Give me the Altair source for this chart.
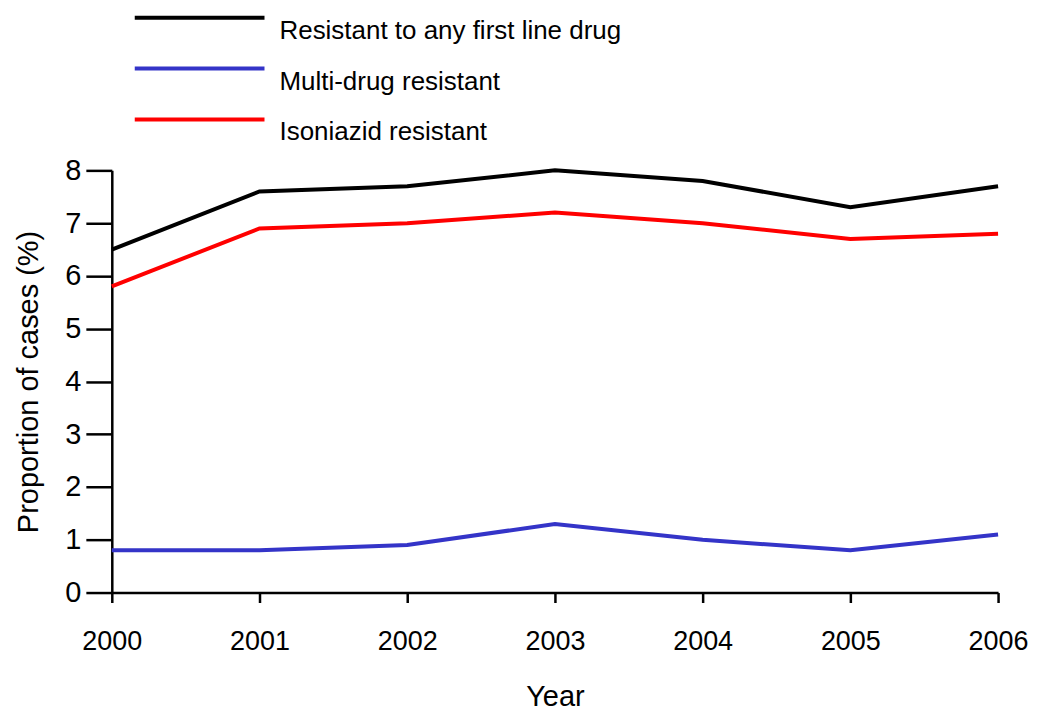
import altair as alt
import pandas as pd

years = [2000, 2001, 2002, 2003, 2004, 2005, 2006]
any_first_line = [6.5, 7.6, 7.7, 8.0, 7.8, 7.3, 7.7]
multi_drug = [0.8, 0.8, 0.9, 1.3, 1.0, 0.8, 1.1]
isoniazid = [5.8, 6.9, 7.0, 7.2, 7.0, 6.7, 6.8]

series_names = ["Resistant to any first line drug", "Multi-drug resistant", "Isoniazid resistant"]
series_colors = ["#000000", "#3434C8", "#FF0000"]

rows = []
for name, vals in zip(series_names, [any_first_line, multi_drug, isoniazid]):
    for y, v in zip(years, vals):
        rows.append({"Year": y, "Value": v, "Series": name})
df = pd.DataFrame(rows)

FONT = "Liberation Sans"

chart = alt.Chart(df).mark_line(strokeWidth=4).encode(
    x=alt.X("Year:Q",
            scale=alt.Scale(domain=[2000, 2006], nice=False, zero=False),
            axis=alt.Axis(values=years, format="d", title="Year", grid=False, labelFlush=False,
                          labelFontSize=27, tickSize=10, labelPadding=26, titlePadding=28)),
    y=alt.Y("Value:Q",
            scale=alt.Scale(domain=[0, 8], nice=False),
            axis=alt.Axis(values=list(range(0, 9)), title="Proportion of cases (%)", grid=False,
                          tickSize=26, labelPadding=5, titlePadding=21)),
    color=alt.Color("Series:N",
                    scale=alt.Scale(domain=series_names, range=series_colors),
                    sort=series_names,
                    legend=alt.Legend(title=None, orient="none", legendX=73, legendY=-168,
                                      symbolType="M-5,0H5", symbolSize=676, symbolStrokeWidth=4,
                                      labelFontSize=26, labelFont=FONT, labelOffset=65,
                                      labelBaseline="top", rowPadding=10, labelLimit=600)),
).properties(
    width=888, height=423,
    autosize=alt.AutoSizeParams(type="none"),
    padding={"left": 104, "top": 162, "right": 32, "bottom": 120},
).configure_view(stroke=None).configure_axis(
    domainColor="#000000", domainWidth=2.5, tickColor="#000000", tickWidth=2.5,
    labelFont=FONT, labelFontSize=29, labelColor="#000000",
    titleFont=FONT, titleFontSize=29, titleFontWeight="normal", titleColor="#000000",
)

chart.save("out.html", embed_options={"renderer": "svg", "actions": False})
